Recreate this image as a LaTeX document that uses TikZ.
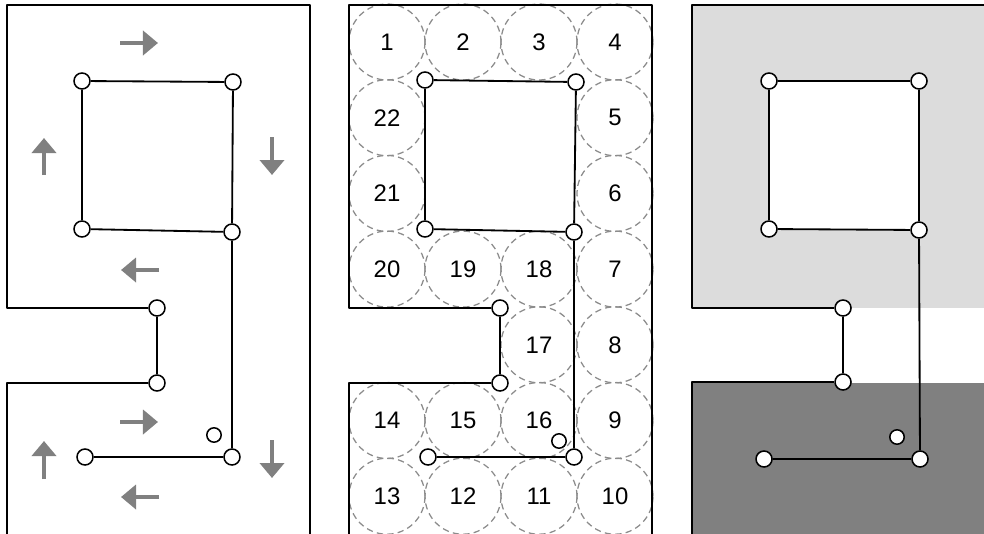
\documentclass[tikz,border=0pt]{standalone}
\usepackage{fontspec}
\setmainfont{Liberation Sans}
\usetikzlibrary{arrows.meta}
\definecolor{lightfill}{HTML}{DCDCDC}
\definecolor{darkfill}{HTML}{808080}
\definecolor{flowgray}{HTML}{808080}
\definecolor{cellgray}{HTML}{8C8C8C}

\begin{document}
\begin{tikzpicture}[x=0.025cm, y=-0.025cm, line join=round, line cap=butt,
    wall/.style={line width=1.3pt},
    link/.style={line width=1.3pt},
    vtx/.style={circle, draw, fill=white, line width=1.1pt, inner sep=0pt, minimum size=0.4cm},
    vtxs/.style={vtx, minimum size=0.36cm},
    flow/.style={line width=3pt, flowgray, -{Triangle[length=0.375cm,width=0.6cm]}},
    cell/.style={circle, draw=cellgray, dash pattern=on 4.5pt off 3pt, line width=0.9pt,
        minimum size=1.9cm, inner sep=0pt, font=\fontsize{17}{20}\selectfont}]
    \useasboundingbox (0,0) rectangle (984,533);

    % left panel: direction of the sweep
    \node[vtx] (a1) at (82,81) {};
    \node[vtx] (a2) at (233,82) {};
    \node[vtx] (a3) at (82,229) {};
    \node[vtx] (a4) at (232,232) {};
    \node[vtx] (a5) at (157,308) {};
    \node[vtx] (a6) at (157,383) {};
    \node[vtx] (a7) at (85,457) {};
    \node[vtx] (a8) at (232,457) {};
    \node[vtxs] (a9) at (214,435) {};
    \draw[wall] (a5) -- (7,308) -- (7,5) -- (310,5) -- (310,540);
    \draw[wall] (a6) -- (7,383) -- (7,540);
    \draw[link] (a1) -- (a2) (a2) -- (a4) (a1) -- (a3) (a3) -- (a4)
        (a4) -- (a8) (a7) -- (a8) (a5) -- (a6);
    \draw[flow] (120,43) -- (158,43);
    \draw[flow] (44,175) -- (44,138);
    \draw[flow] (272,137) -- (272,175);
    \draw[flow] (159,270) -- (121,270);
    \draw[flow] (120,422) -- (158,422);
    \draw[flow] (44,479) -- (44,441);
    \draw[flow] (272,440) -- (272,478);
    \draw[flow] (159,497) -- (121,497);

    % middle panel: numbered cells
    \foreach \c/\r/\t in {0/0/1,1/0/2,2/0/3,3/0/4,3/1/5,3/2/6,3/3/7,3/4/8,3/5/9,3/6/10,
        2/6/11,1/6/12,0/6/13,0/5/14,1/5/15,2/5/16,2/4/17,2/3/18,1/3/19,0/3/20,0/2/21,0/1/22}
        \node[cell] (cell\t) at ({387+76*\c},{42+75.7*\r}) {\t};
    \node[vtx] (b1) at (425,80) {};
    \node[vtx] (b2) at (576,82) {};
    \node[vtx] (b3) at (425,229) {};
    \node[vtx] (b4) at (574,232) {};
    \node[vtx] (b5) at (500,308) {};
    \node[vtx] (b6) at (500,383) {};
    \node[vtx] (b7) at (428,457) {};
    \node[vtx] (b8) at (574,457) {};
    \node[vtxs] (b9) at (559,441) {};
    \draw[wall] (b5) -- (349,308) -- (349,5) -- (652,5) -- (652,540);
    \draw[wall] (b6) -- (349,383) -- (349,540);
    \draw[link] (b1) -- (b2) (b2) -- (b4) (b1) -- (b3) (b3) -- (b4)
        (b4) -- (b8) (b7) -- (b8) (b5) -- (b6);

    % right panel: two regions
    \fill[lightfill] (692,5) rectangle (984,308);
    \fill[white] (769,81) rectangle (919,230);
    \fill[darkfill] (692,383) rectangle (984,540);
    \node[vtx] (c1) at (769,81) {};
    \node[vtx] (c2) at (919,81) {};
    \node[vtx] (c3) at (769,229) {};
    \node[vtx] (c4) at (919,230) {};
    \node[vtx] (c5) at (843,308) {};
    \node[vtx] (c6) at (843,382) {};
    \node[vtx] (c7) at (764,459) {};
    \node[vtx] (c8) at (920,459) {};
    \node[vtxs] (c9) at (897,437) {};
    \draw[wall] (c5) -- (692,308) -- (692,5) -- (984,5);
    \draw[wall] (c6) -- (692,382) -- (692,540);
    \draw[link] (c1) -- (c2) (c2) -- (c4) (c1) -- (c3) (c3) -- (c4)
        (c4) -- (c8) (c7) -- (c8) (c5) -- (c6);
\end{tikzpicture}
\end{document}
